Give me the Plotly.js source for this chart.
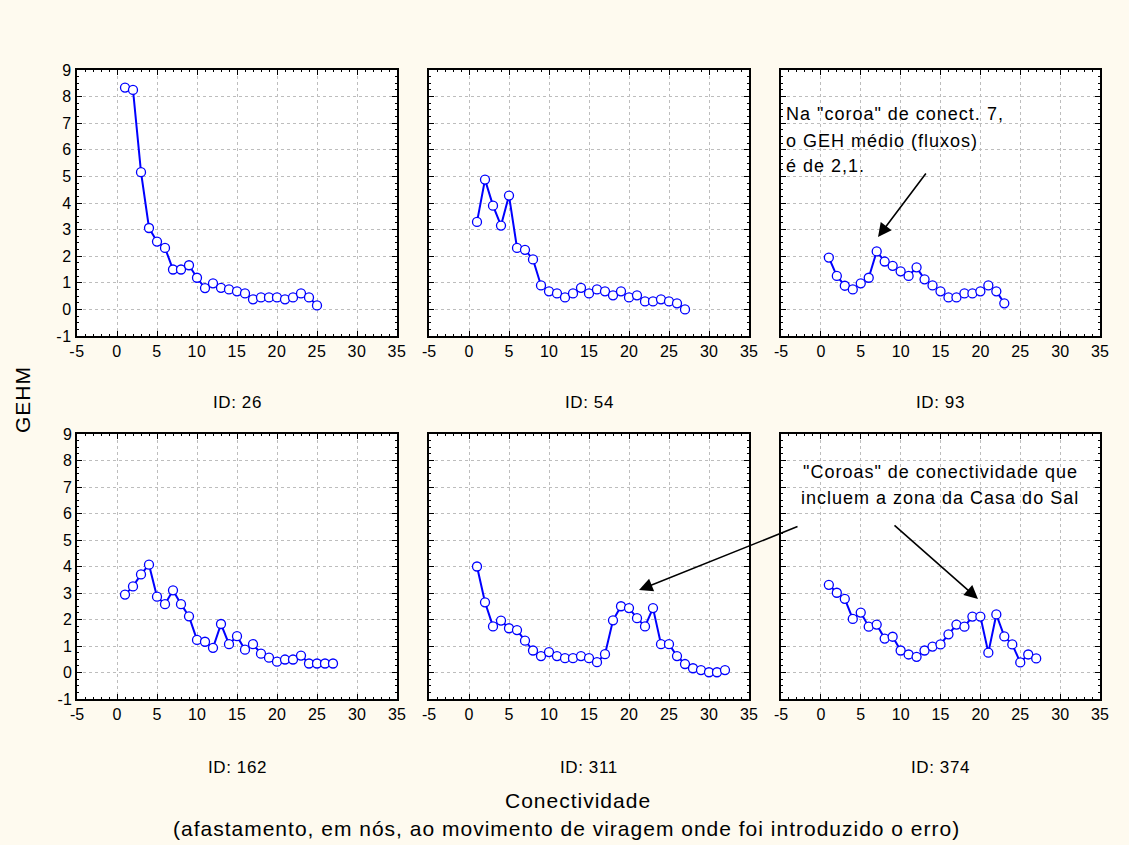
<!DOCTYPE html>
<html>
<head>
<meta charset="utf-8">
<script src="https://cdn.plot.ly/plotly-3.0.1.min.js"></script>
<style>
html,body{margin:0;padding:0;background:#fefaef;}
#chart{width:1129px;height:845px;}
#chart .xtick text,#chart .ytick text{letter-spacing:0.6px;}
</style>
</head>
<body>
<div id="chart"></div>
<script>
// ---- data ----
const panelIds = ["ID: 26", "ID: 54", "ID: 93", "ID: 162", "ID: 311", "ID: 374"];

const conn26 = [1,2,3,4,5,6,7,8,9,10,11,12,13,14,15,16,17,18,19,20,21,22,23,24,25];
const gehm26 = [8.34,8.25,5.16,3.06,2.55,2.31,1.50,1.50,1.66,1.19,0.80,0.98,0.81,0.75,0.68,0.60,0.38,0.45,0.45,0.45,0.38,0.45,0.60,0.45,0.15];

const conn54 = [1,2,3,4,5,6,7,8,9,10,11,12,13,14,15,16,17,18,19,20,21,22,23,24,25,26,27];
const gehm54 = [3.29,4.88,3.90,3.15,4.28,2.31,2.24,1.88,0.90,0.68,0.60,0.45,0.60,0.81,0.60,0.75,0.68,0.53,0.68,0.45,0.53,0.30,0.30,0.38,0.30,0.23,0.00];

const conn93 = [1,2,3,4,5,6,7,8,9,10,11,12,13,14,15,16,17,18,19,20,21,22,23];
const gehm93 = [1.95,1.26,0.89,0.75,0.98,1.19,2.18,1.80,1.64,1.43,1.26,1.58,1.13,0.90,0.68,0.45,0.45,0.60,0.60,0.68,0.90,0.68,0.23];

const conn162 = [1,2,3,4,5,6,7,8,9,10,11,12,13,14,15,16,17,18,19,20,21,22,23,24,25,26,27];
const gehm162 = [2.94,3.25,3.70,4.07,2.86,2.58,3.10,2.58,2.12,1.23,1.16,0.93,1.83,1.07,1.37,0.86,1.07,0.71,0.56,0.41,0.49,0.49,0.64,0.34,0.34,0.34,0.34];

const conn311 = [1,2,3,4,5,6,7,8,9,10,11,12,13,14,15,16,17,18,19,20,21,22,23,24,25,26,27,28,29,30,31,32];
const gehm311 = [4.00,2.65,1.74,1.96,1.67,1.60,1.20,0.83,0.62,0.77,0.62,0.54,0.54,0.62,0.54,0.39,0.69,1.97,2.50,2.43,2.05,1.74,2.43,1.07,1.07,0.62,0.32,0.16,0.09,0.01,0.01,0.09];

const conn374 = [1,2,3,4,5,6,7,8,9,10,11,12,13,14,15,16,17,18,19,20,21,22,23,24,25,26,27];
const gehm374 = [3.31,3.01,2.78,2.02,2.26,1.73,1.81,1.28,1.35,0.83,0.68,0.59,0.83,0.98,1.06,1.44,1.81,1.73,2.11,2.11,0.75,2.19,1.36,1.06,0.38,0.68,0.53];

const xTickVals = [-5,0,5,10,15,20,25,30,35];
const yTickVals = [-1,0,1,2,3,4,5,6,7,8,9];

const yTitle = "GEHM";
const xTitle = "Conectividade";
const xSubTitle = "(afastamento, em nós, ao movimento de viragem onde foi introduzido o erro)";
const note1 = ["Na \"coroa\" de conect. 7,", "o GEH médio (fluxos)", "é de 2,1."];
const note2 = ["\"Coroas\" de conectividade que", "incluem a zona da Casa do Sal"];

// ---- chart ----
const W = 1129, H = 845;
const FONT = "Arial, 'Liberation Sans', sans-serif";
const sp = (t, ls) => '<span style="letter-spacing:' + ls + 'px">' + t + '</span>';
const series = [[conn26,gehm26],[conn54,gehm54],[conn93,gehm93],[conn162,gehm162],[conn311,gehm311],[conn374,gehm374]];

const colsPx = [[77,397],[429,749],[781,1100]];
const rowsPx = [[70,336],[434,699]];

const traces = series.map((s,i)=>({
  x: s[0], y: s[1], type:'scatter', mode:'lines+markers',
  xaxis: i===0 ? 'x' : 'x'+(i+1), yaxis: i===0 ? 'y' : 'y'+(i+1),
  line:{color:'#0000ff', width:2},
  marker:{symbol:'circle', size:9, color:'#ffffff', line:{color:'#0000ff', width:1.3}},
  showlegend:false, hoverinfo:'skip'
}));

const layout = {
  width: W, height: H,
  margin:{l:0,r:0,t:0,b:0},
  paper_bgcolor:'#fefaef', plot_bgcolor:'#ffffff',
  font:{family:FONT, size:16, color:'#000'},
  showlegend:false,
  annotations:[], shapes:[]
};

for (let i=0;i<6;i++){
  const r = Math.floor(i/3), c = i%3;
  const xk = i===0 ? 'xaxis' : 'xaxis'+(i+1);
  const yk = i===0 ? 'yaxis' : 'yaxis'+(i+1);
  const yid = i===0 ? 'y' : 'y'+(i+1);
  const xid = i===0 ? 'x' : 'x'+(i+1);
  layout[xk] = {
    domain:[colsPx[c][0]/W, colsPx[c][1]/W], anchor:yid,
    range:[-5,35], tickvals:xTickVals, ticktext:xTickVals.map(String),
    showgrid:true, gridcolor:'#bdbdbd', griddash:'dot', gridwidth:1,
    zeroline:false, showline:true, linecolor:'#000', linewidth:2, mirror:'allticks',
    ticks:'inside', ticklen:5, tickcolor:'#000', tickwidth:1,
    minor:{dtick:1, ticks:'inside', ticklen:2, tickcolor:'#000', showgrid:false},
    tickfont:{family:FONT, size:16, color:'#000'}, fixedrange:true
  };
  layout[yk] = {
    domain:[(H-rowsPx[r][1])/H, (H-rowsPx[r][0])/H], anchor:xid,
    range:[-1,9], tickvals:yTickVals, ticktext:yTickVals.map(String),
    showticklabels: c===0,
    showgrid:true, gridcolor:'#bdbdbd', griddash:'dot', gridwidth:1,
    zeroline:false, showline:true, linecolor:'#000', linewidth:2, mirror:'allticks',
    ticks:'inside', ticklen:5, tickcolor:'#000', tickwidth:1,
    minor:{dtick:0.25, ticks:'inside', ticklen:2, tickcolor:'#000', showgrid:false},
    tickfont:{family:FONT, size:16, color:'#000'}, fixedrange:true
  };
  layout.annotations.push({
    text: sp(panelIds[i], 0.6), xref:'paper', yref:'paper',
    x:(colsPx[c][0]+colsPx[c][1])/2/W, y:(H-(r===0?402:767))/H,
    xanchor:'center', yanchor:'middle', showarrow:false,
    font:{family:FONT, size:17, color:'#000'}
  });
}

// axis titles
layout.annotations.push({text:sp(yTitle,1), xref:'paper', yref:'paper', x:22/W, y:(H-400)/H,
  textangle:-90, showarrow:false, xanchor:'center', yanchor:'middle', font:{family:FONT,size:21,color:'#000'}});
layout.annotations.push({text:sp(xTitle,1), xref:'paper', yref:'paper', x:578/W, y:(H-800)/H,
  showarrow:false, xanchor:'center', yanchor:'middle', font:{family:FONT,size:21,color:'#000'}});
layout.annotations.push({text:sp(xSubTitle,1), xref:'paper', yref:'paper', x:566/W, y:(H-828)/H,
  showarrow:false, xanchor:'center', yanchor:'middle', font:{family:FONT,size:21,color:'#000'}});

// note 1 (top right panel)
const n1y = [114,141,166];
note1.forEach((t,k)=>layout.annotations.push({text:sp(t,1), xref:'paper', yref:'paper', x:784/W, y:(H-n1y[k])/H,
  xanchor:'left', yanchor:'middle', align:'left', showarrow:false, font:{family:FONT,size:18,color:'#000'}}));
// note 2 (bottom right panel)
const n2y = [472,498];
note2.forEach((t,k)=>layout.annotations.push({text:sp(t,1), xref:'paper', yref:'paper', x:940/W, y:(H-n2y[k])/H,
  xanchor:'center', yanchor:'middle', showarrow:false, font:{family:FONT,size:18,color:'#000'}}));

// arrows
const arrowStyle = {text:'', showarrow:true, arrowhead:2, arrowsize:1.7, arrowwidth:1.6, arrowcolor:'#000', axref:'pixel', ayref:'pixel'};
layout.annotations.push(Object.assign({}, arrowStyle, {xref:'paper', yref:'paper', x:878/W, y:(H-237)/H, ax:49, ay:-65}));
layout.annotations.push(Object.assign({}, arrowStyle, {xref:'paper', yref:'paper', x:978/W, y:(H-599)/H, ax:-85, ay:-75}));
layout.annotations.push(Object.assign({}, arrowStyle, {xref:'paper', yref:'paper', x:639/W, y:(H-590)/H, ax:160, ay:-64}));

Plotly.newPlot('chart', traces, layout, {displayModeBar:false, staticPlot:true});
</script>
</body>
</html>
